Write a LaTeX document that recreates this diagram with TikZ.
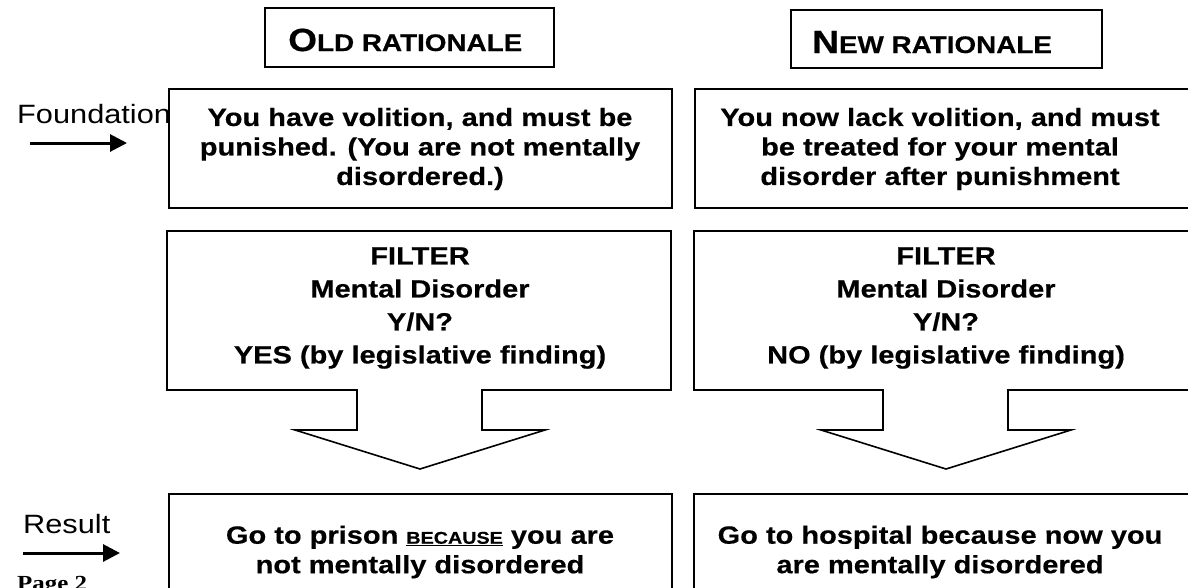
\documentclass[tikz,border=0pt]{standalone}
\usepackage{fontspec}
\setmainfont{Liberation Sans}[FakeStretch=1.16, BoldFeatures={FakeBold=0.4}]
\newfontfamily\pagefont{Liberation Serif}[FakeStretch=1.16]
\usetikzlibrary{arrows.meta}
\begin{document}
\begin{tikzpicture}[x=1pt,y=-1pt,
  box/.style={draw=black, line width=1.6pt, fill=white, inner sep=0pt, anchor=north west},
  shapeline/.style={draw=black, line width=1.6pt, fill=white},
  bodytext/.style={font=\fontsize{25}{29.5}\selectfont\bfseries, align=center, inner sep=0pt},
  filtertext/.style={font=\fontsize{25}{33}\selectfont\bfseries, align=center, inner sep=0pt},
  sidetext/.style={font=\fontsize{26.5}{30}\selectfont, inner sep=0pt, anchor=base west},
  sidearrow/.style={line width=3pt, -{Triangle[length=17pt,width=17pt]}},
  titletext/.style={inner sep=0pt, anchor=base west, font=\bfseries}
]
\useasboundingbox (0,0) rectangle (1188,587);
\clip (0,0) rectangle (1188,587);

% titles
\node[box, minimum width=289pt, minimum height=59pt] (oldtitlebox) at (264,7) {};
\node[titletext] (oldtitle) at (288,51) {\fontsize{32}{32}\selectfont O\fontsize{24}{32}\selectfont LD RATIONALE};
\node[box, minimum width=311pt, minimum height=58pt] (newtitlebox) at (790,9) {};
\node[titletext] (newtitle) at (812,53) {\fontsize{32}{32}\selectfont N\fontsize{24}{32}\selectfont EW RATIONALE};

% side labels
\node[sidetext] (foundlabel) at (17,123) {Foundation};
\coordinate (fa1) at (30,143);
\coordinate (fa2) at (127,143);
\draw[sidearrow] (fa1) -- (fa2);

\node[sidetext] (resultlabel) at (23,533) {Result};
\coordinate (ra1) at (23,553);
\coordinate (ra2) at (120,553);
\draw[sidearrow] (ra1) -- (ra2);

\node[inner sep=0pt, anchor=base west, font=\pagefont\bfseries\fontsize{21.5}{22}\selectfont] (pagelabel) at (17,590) {Page 2};

% foundation boxes
\node[box, minimum width=503pt, minimum height=119pt] (oldfound) at (168,88) {};
\node[bodytext] (oldfoundtext) at (420,149) {You have volition, and must be\\punished. (You are not mentally\\disordered.)};
\node[box, minimum width=520pt, minimum height=119pt] (newfound) at (694,88) {};
\node[bodytext] (newfoundtext) at (940,149) {You now lack volition, and must\\be treated for your mental\\disorder after punishment};

% filter shapes
\draw[shapeline] (357,390) -- (167,390) -- (167,231) -- (671,231) -- (671,390) -- (482,390)
  -- (482,430) -- (545,430) -- (420,469) -- (295,430) -- (357,430) -- cycle;
\node[filtertext] (oldfilter) at (420,308) {FILTER\\Mental Disorder\\Y/N?\\YES (by legislative finding)};

\draw[shapeline] (883,390) -- (694,390) -- (694,231) -- (1214,231) -- (1214,390) -- (1008,390)
  -- (1008,430) -- (1071,430) -- (946,469) -- (821,430) -- (883,430) -- cycle;
\node[filtertext] (newfilter) at (946,308) {FILTER\\Mental Disorder\\Y/N?\\NO (by legislative finding)};

% result boxes
\node[box, minimum width=503pt, minimum height=120pt] (oldresult) at (168,493) {};
\node[bodytext] (oldresulttext) at (420,552) {Go to prison {\fontsize{17}{18}\selectfont\underline{BECAUSE}} you are\\not mentally disordered};
\node[box, minimum width=520pt, minimum height=120pt] (newresult) at (693,493) {};
\node[bodytext] (newresulttext) at (940,552) {Go to hospital because now you\\are mentally disordered};
\end{tikzpicture}
\end{document}
